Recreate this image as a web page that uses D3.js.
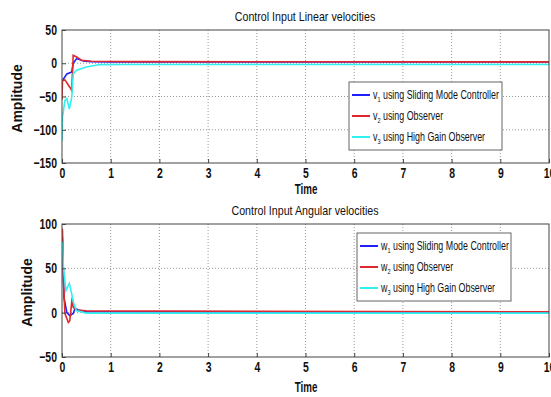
<!DOCTYPE html>
<html>
<head>
<meta charset="utf-8">
<script src="https://cdn.jsdelivr.net/npm/d3@7"></script>
<style>
  body { margin: 0; background: #fff; }
  svg { display: block; font-family: "Liberation Sans", Arial, sans-serif; }
  .tick text { font-weight: bold; font-size: 14.5px; fill: #111; }
  .grid line { stroke: #999; stroke-dasharray: 1,2; }
</style>
</head>
<body>
<div id="chart"></div>
<script>
// x tick labels shared by both panels
const xTicks = [0, 1, 2, 3, 4, 5, 6, 7, 8, 9, 10];

// Linear velocities (top panel)
const v1Time = [0, 0.01, 0.1, 0.2, 0.23, 0.3, 0.44, 0.6, 1.0, 1.5, 10];
const v1Vals = [-30, -26, -16, -13, 0, 7, 3.5, 2.5, 2, 2, 2];
const v2Time = [0, 0.01, 0.06, 0.16, 0.2, 0.23, 0.3, 0.4, 0.6, 1.5, 10];
const v2Vals = [-55, -26, -25, -36, -41, 12, 9.5, 4.5, 3, 2.5, 2];
const v3Time = [0, 0.01, 0.06, 0.1, 0.15, 0.2, 0.23, 0.3, 0.5, 0.78, 1.2, 10];
const v3Vals = [-117, -81, -56, -53, -69, -51, -16, -10.6, -5.6, -2, -1.8, -1.8];
const linTicks = [50, 0, -50, -100, -150];

// Angular velocities (bottom panel)
const w1Time = [0, 0.01, 0.04, 0.1, 0.16, 0.23, 0.27, 0.33, 0.5, 10];
const w1Vals = [90, 82, 17, 0, -3.4, -1, 5, 3, 1, 0.8];
const w2Time = [0, 0.01, 0.03, 0.06, 0.13, 0.16, 0.21, 0.23, 0.3, 0.5, 10];
const w2Vals = [95, 93, 36, -1, -11, -9, 17, 6, 3, 2, 1];
const w3Time = [0, 0.01, 0.03, 0.08, 0.15, 0.2, 0.23, 0.3, 0.5, 10];
const w3Vals = [80, 78, 51, 25, 33, 21, 12, 2, -0.5, -0.5];
const angTicks = [100, 50, 0, -50];

const colors = ["#2020ff", "#e0282c", "#30f0f0"];

const svg = d3.select("#chart").append("svg")
    .attr("width", 551)
    .attr("height", 397);

function zip(ts, vs) {
    return ts.map((t, i) => ({ t: t, v: vs[i] }));
}

function drawPanel(opts) {
    const x = d3.scaleLinear().domain([0, 10]).range([62, 549]);
    const y = d3.scaleLinear().domain(opts.domain).range([opts.bottom, opts.top]);

    // grid
    const grid = svg.append("g").attr("class", "grid");
    grid.selectAll(".gx").data(xTicks.slice(1, -1)).enter().append("line")
        .attr("x1", d => x(d)).attr("x2", d => x(d))
        .attr("y1", opts.top).attr("y2", opts.bottom);
    grid.selectAll(".gy").data(opts.ticks.slice(1, -1)).enter().append("line")
        .attr("x1", 62).attr("x2", 549)
        .attr("y1", d => y(d)).attr("y2", d => y(d));

    // clip for lines
    const clipId = "clip" + opts.top;
    svg.append("clipPath").attr("id", clipId).append("rect")
        .attr("x", 62).attr("y", opts.top)
        .attr("width", 487).attr("height", opts.bottom - opts.top);

    const line = d3.line().x(d => x(d.t)).y(d => y(d.v));
    const g = svg.append("g").attr("clip-path", `url(#${clipId})`);
    opts.series.forEach((s, i) => {
        g.append("path")
            .datum(zip(s[0], s[1]))
            .attr("d", line)
            .attr("fill", "none")
            .attr("stroke", colors[i])
            .attr("stroke-width", 1.6);
    });

    // frame
    svg.append("rect")
        .attr("x", 62).attr("y", opts.top)
        .attr("width", 487).attr("height", opts.bottom - opts.top)
        .attr("fill", "none").attr("stroke", "#444").attr("stroke-width", 1);

    // axes with inward ticks, condensed labels
    svg.append("g")
        .attr("transform", `translate(0,${opts.bottom})`)
        .call(d3.axisBottom(x).tickValues(xTicks).tickSizeInner(-4).tickSizeOuter(0).tickPadding(5))
        .call(a => a.select(".domain").remove())
        .call(a => a.selectAll("line").attr("stroke", "#444"))
        .call(a => a.selectAll("text").attr("transform", "scale(0.72,1)"));
    svg.append("g")
        .attr("transform", "translate(62,0)")
        .call(d3.axisLeft(y).tickValues(opts.ticks).tickSizeInner(-4).tickSizeOuter(0).tickPadding(7)
            .tickFormat(d => d < 0 ? "\u2212" + Math.abs(d) : d))
        .call(a => a.select(".domain").remove())
        .call(a => a.selectAll("line").attr("stroke", "#444"))
        .call(a => a.selectAll("text").attr("transform", "scale(0.72,1)"));

    // titles
    svg.append("text")
        .attr("transform", `translate(305,${opts.top - 9}) scale(0.89,1)`)
        .attr("text-anchor", "middle")
        .style("font-size", "12px")
        .style("fill", "#111")
        .text(opts.title);
    svg.append("text")
        .attr("transform", `translate(306,${opts.timeY}) scale(0.7,1)`)
        .attr("text-anchor", "middle")
        .style("font-weight", "bold")
        .style("font-size", "14px")
        .style("fill", "#111")
        .text("Time");
    svg.append("text")
        .attr("transform", `translate(${opts.ylabX},${(opts.top + opts.bottom) / 2 + 2}) rotate(-90)`)
        .attr("text-anchor", "middle")
        .style("font-weight", "bold")
        .style("font-size", "14px")
        .style("fill", "#111")
        .text("Amplitude");

    // legend
    const lg = svg.append("g").attr("transform", `translate(${opts.legend[0]},${opts.legend[1]})`);
    lg.append("rect")
        .attr("width", opts.legend[2]).attr("height", 68)
        .attr("fill", "#fff").attr("stroke", "#666");
    opts.labels.forEach((lab, i) => {
        const yy = 13 + i * 21;
        lg.append("line")
            .attr("x1", 3).attr("x2", 21).attr("y1", yy).attr("y2", yy)
            .attr("stroke", colors[i]).attr("stroke-width", 2);
        const t = lg.append("text")
            .attr("transform", `translate(24,${yy + 4}) scale(0.74,1)`)
            .style("font-size", "12px")
            .style("fill", "#111");
        t.append("tspan").text(opts.sym);
        t.append("tspan").attr("dy", 3).style("font-size", "7.5px").text(i + 1);
        t.append("tspan").attr("dy", -3).text(" " + lab);
    });
}

const legendLabels = ["using Sliding Mode Controller", "using Observer", "using High Gain Observer"];

drawPanel({
    top: 30, bottom: 163, domain: [-150, 50], ticks: linTicks, ylabX: 22, timeY: 194,
    title: "Control Input Linear velocities",
    series: [[v1Time, v1Vals], [v2Time, v2Vals], [v3Time, v3Vals]],
    legend: [349, 82, 153], sym: "v", labels: legendLabels
});

drawPanel({
    top: 224, bottom: 357, domain: [-50, 100], ticks: angTicks, ylabX: 32, timeY: 392,
    title: "Control Input Angular velocities",
    series: [[w1Time, w1Vals], [w2Time, w2Vals], [w3Time, w3Vals]],
    legend: [357, 233, 154], sym: "w", labels: legendLabels
});
</script>
</body>
</html>
